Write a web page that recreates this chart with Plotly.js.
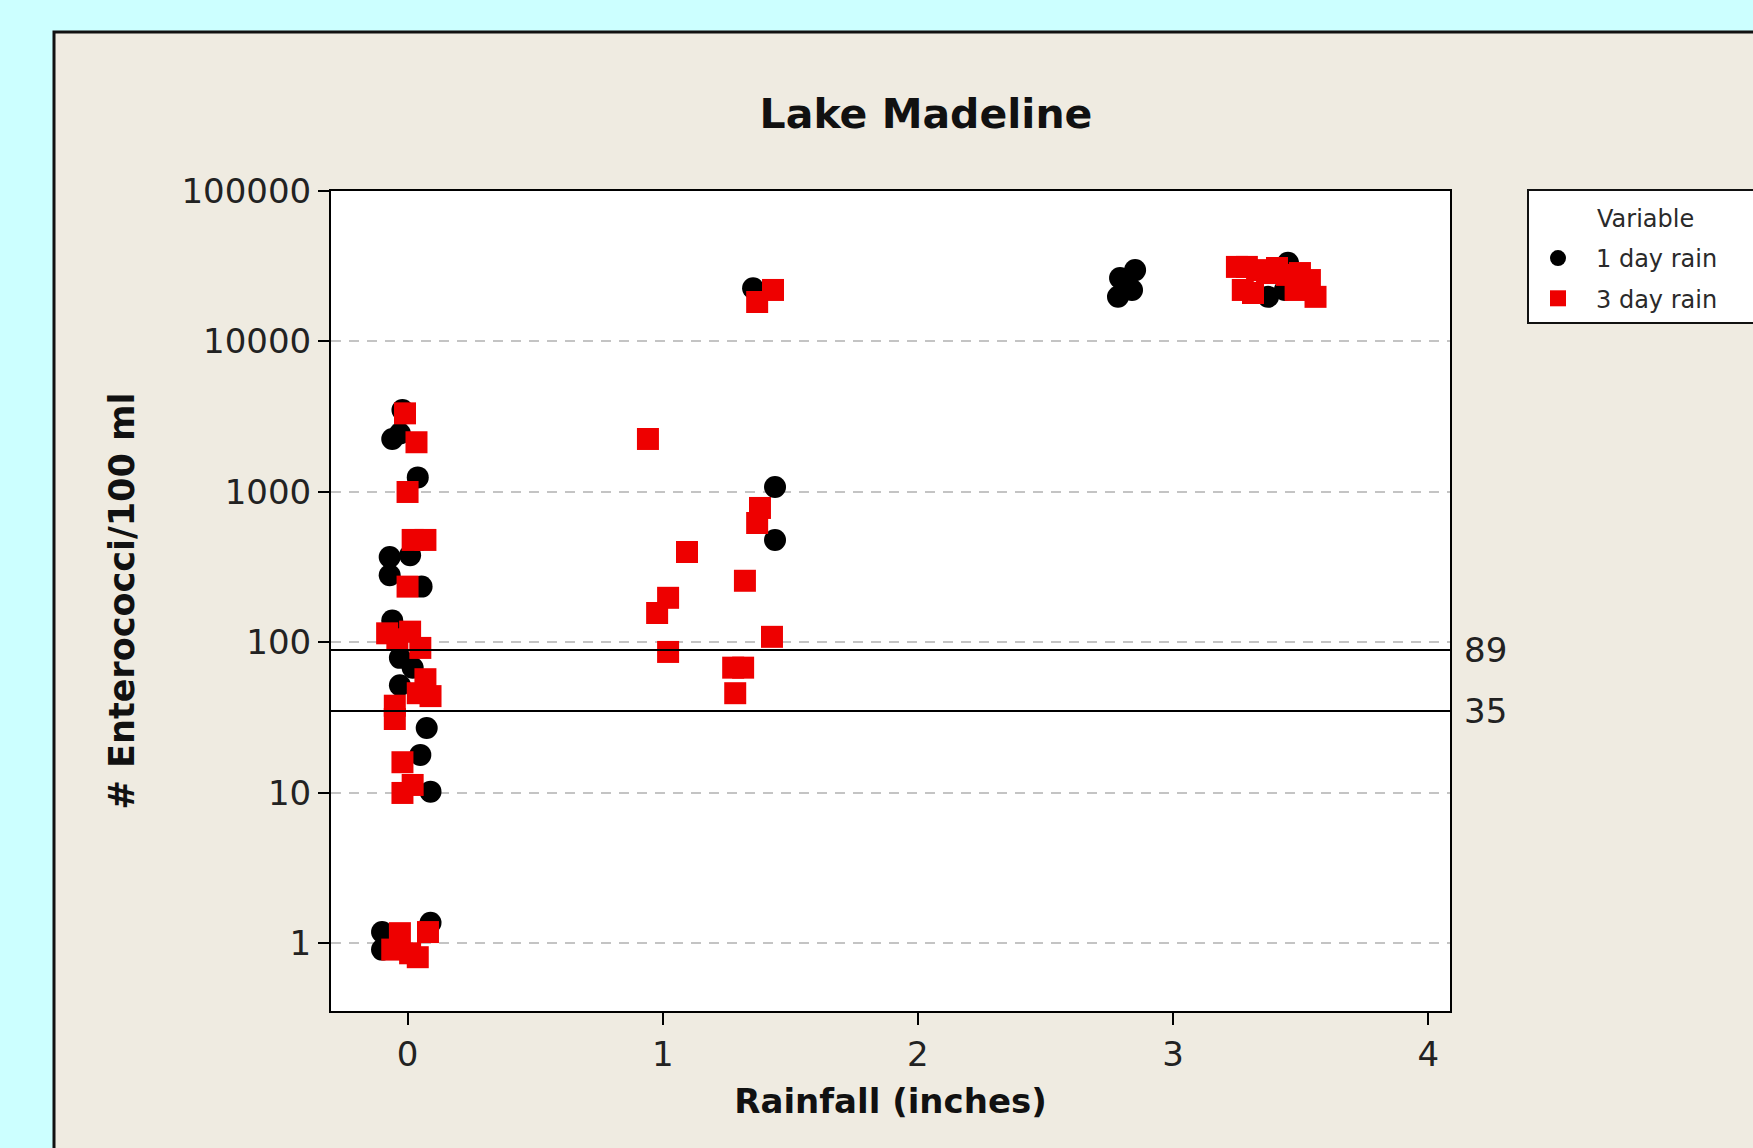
<!DOCTYPE html>
<html><head><meta charset="utf-8">
<script src="https://cdn.plot.ly/plotly-3.0.1.min.js"></script>
<style>html,body{margin:0;padding:0;background:#ccffff;}</style>
</head><body><div id="chart" style="width:1753px;height:1148px;"></div>
<script>
// ---- data ----
const oneDayRain  = [-0.02,-0.06,-0.03,0.04,-0.07,0.01,-0.07,0.055,-0.06,-0.03,0.02,-0.03,0.075,0.05,0.09,-0.10,0.09,-0.10,
                     1.354,1.44,1.44,
                     2.851,2.792,2.839,2.784,3.45,3.372,3.438];
const oneDayCount = [3500,2250,2450,1250,370,380,280,235,140,79,68,52,27,17.9,10.2,1.19,1.37,0.91,
                     22600,1080,480,
                     29800,26400,22000,19800,33300,19800,22000];
const threeDayRain  = [-0.01,0.035,0.0,0.02,0.07,0.0,-0.08,-0.04,0.01,0.05,0.07,0.09,0.04,-0.05,-0.05,-0.02,0.02,-0.02,-0.03,0.08,-0.06,0.01,0.04,
                       1.432,1.37,0.942,1.381,1.37,1.095,1.322,1.021,0.978,1.428,1.021,1.276,1.315,1.284,
                       3.25,3.289,3.329,3.368,3.407,3.446,3.497,3.536,3.273,3.313,3.48,3.558];
const threeDayCount = [3330,2140,1000,480,480,235,115,105,118,92,57,44,46,38,31,16,11.3,10,1.17,1.19,0.91,0.86,0.81,
                       22000,18300,2250,783,622,399,257,198,157,109,86.5,68,68,46,
                       31300,31300,29800,28500,30800,27700,28500,25600,22000,21000,22000,19800];
const seriesNames = ['1 day rain','3 day rain'];
const legendTitle = 'Variable';
const refLevels = [89, 35];
const yTickVals = [1,10,100,1000,10000,100000];
const yTickText = ['1','10','100','1000','10000','100000'];
const xTickVals = [0,1,2,3,4];
const xRange = [-0.3, 4.085];
const yLogRange = [-0.449, 5];

// ---- layout geometry ----
const W = 1753, H = 1148;
const L = 331, R = 1450, T = 191, B = 1011;
const pw = R - L, ph = B - T;
const px = v => (v - L) / pw;
const py = v => (B - v) / ph;

const tickFont = {family: 'DejaVu Sans', size: 34, color: '#222'};
const legendFont = {family: 'DejaVu Sans', size: 24, color: '#2a2a2a'};

const traces = [
  {type: 'scatter', mode: 'markers', name: seriesNames[0], x: oneDayRain, y: oneDayCount,
   legendgroup: 'a', marker: {symbol: 'circle', size: 22, color: '#000000', line: {width: 0}}},
  {type: 'scatter', mode: 'markers', name: seriesNames[1], x: threeDayRain, y: threeDayCount,
   legendgroup: 'b', marker: {symbol: 'square', size: 22, color: '#ee0000', line: {width: 0}}}
];
refLevels.forEach(v => traces.push({
  type: 'scatter', mode: 'lines', x: xRange, y: [v, v], showlegend: false, hoverinfo: 'skip',
  line: {color: '#000', width: 2}
}));

const annotations = refLevels.map(v => ({
  xref: 'paper', x: 1, xanchor: 'left', xshift: 12, yref: 'y', y: Math.log10(v), yanchor: 'middle',
  text: String(v), showarrow: false, font: tickFont
}));
annotations.push({xref: 'paper', x: px(1595), xanchor: 'left', yref: 'paper', y: py(219), yanchor: 'middle',
  text: legendTitle, showarrow: false, font: legendFont});

const layout = {
  width: W, height: H,
  paper_bgcolor: '#ccffff', plot_bgcolor: 'rgba(0,0,0,0)',
  margin: {l: L, r: W - R, t: T, b: H - B, autoexpand: false},
  font: {family: 'DejaVu Sans', color: '#222'},
  title: {text: 'Lake Madeline', font: {family: 'DejaVu Sans', size: 41, color: '#111', weight: 'bold'},
          xref: 'paper', x: px(926), xanchor: 'center', yref: 'container', y: 1 - 114 / H, yanchor: 'middle'},
  xaxis: {range: xRange, tickvals: xTickVals, ticktext: xTickVals.map(String), showgrid: false, zeroline: false,
          ticks: 'outside', ticklen: 12, tickwidth: 2, tickcolor: '#000', tickfont: tickFont,
          showline: true, mirror: true, linecolor: '#000', linewidth: 2,
          title: {text: 'Rainfall (inches)', font: {family: 'DejaVu Sans', size: 34, color: '#111', weight: 'bold'}, standoff: 16}},
  yaxis: {type: 'log', range: yLogRange, tickvals: yTickVals, ticktext: yTickText, zeroline: false,
          showgrid: true, gridcolor: '#c4c4c4', gridwidth: 2, griddash: '10px,8px',
          ticks: 'outside', ticklen: 11, tickwidth: 2, tickcolor: '#000', tickfont: tickFont,
          showline: true, mirror: true, linecolor: '#000', linewidth: 2,
          title: {text: '# Enterococci/100 ml', font: {family: 'DejaVu Sans', size: 35, color: '#111', weight: 'bold'}, standoff: 36}},
  showlegend: true,
  legend: {x: px(1520), xanchor: 'left', y: py(236), yanchor: 'top', bgcolor: 'rgba(0,0,0,0)', borderwidth: 0,
           font: legendFont, tracegroupgap: 6, itemwidth: 66},
  shapes: [
    {type: 'rect', layer: 'below', xref: 'paper', yref: 'paper', x0: px(54), x1: px(1800), y0: py(1200), y1: py(32),
     fillcolor: '#efebe1', line: {color: '#111', width: 3}},
    {type: 'rect', layer: 'below', xref: 'paper', yref: 'paper', x0: 0, x1: 1, y0: 0, y1: 1,
     fillcolor: '#ffffff', line: {width: 0}},
    {type: 'rect', layer: 'below', xref: 'paper', yref: 'paper', x0: px(1528), x1: px(1800), y0: py(323), y1: py(190),
     fillcolor: '#ffffff', line: {color: '#111', width: 2}}
  ],
  annotations: annotations
};

Plotly.newPlot('chart', traces, layout, {staticPlot: true});
</script></body></html>
